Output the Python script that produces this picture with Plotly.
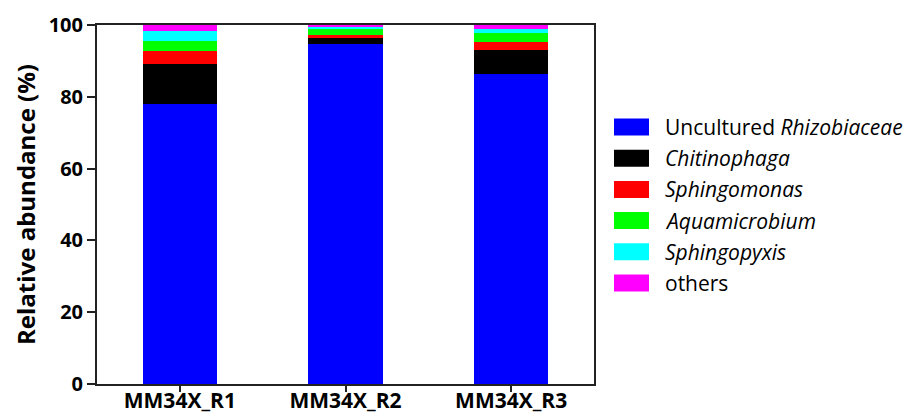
import plotly.graph_objects as go

# Samples and relative abundance (%) of the dominant genera
samples = ["MM34X_R1", "MM34X_R2", "MM34X_R3"]
uncultured_rhizobiaceae = [78.1, 94.7, 86.4]
chitinophaga = [10.9, 1.7, 6.6]
sphingomonas = [3.8, 0.9, 2.3]
aquamicrobium = [2.8, 1.6, 2.4]
sphingopyxis = [2.7, 0.5, 1.3]
others = [1.7, 0.6, 1.0]

taxa_labels = [
    "Uncultured <i>Rhizobiaceae</i>",
    "<i>Chitinophaga</i>",
    "<i>Sphingomonas</i>",
    "<i>Aquamicrobium</i>",
    "<i>Sphingopyxis</i>",
    "others",
]
taxa_values = [uncultured_rhizobiaceae, chitinophaga, sphingomonas,
               aquamicrobium, sphingopyxis, others]
taxa_colors = ["#0000ff", "#000000", "#ff0000", "#00ff00", "#00ffff", "#ff00ff"]
y_ticks = [0, 20, 40, 60, 80, 100]

FONT = "Open Sans"

fig = go.Figure()
for label, vals, color in zip(taxa_labels, taxa_values, taxa_colors):
    fig.add_trace(go.Bar(
        x=samples, y=vals, name=label,
        marker=dict(color=color, line=dict(width=0)),
        width=0.45, showlegend=False,
    ))

# Legend drawn as swatches + labels to the right of the plot
W, H = 917, 415
ml, mr, mt, mb = 97, 323, 25, 31
pw, ph = W - ml - mr, H - mt - mb
shapes, annotations = [], []
for i, (label, color) in enumerate(zip(taxa_labels, taxa_colors)):
    cy = 127 + i * 31.2
    y0 = (H - mb - (cy + 8.5)) / ph
    y1 = (H - mb - (cy - 8.5)) / ph
    shapes.append(dict(type="rect", xref="paper", yref="paper",
                       x0=(614 - ml) / pw, x1=(649 - ml) / pw, y0=y0, y1=y1,
                       fillcolor=color, line=dict(width=0)))
    annotations.append(dict(xref="paper", yref="paper",
                            x=(663 - ml) / pw, y=(H - mb - cy) / ph,
                            xanchor="left", yanchor="middle", showarrow=False,
                            text=label, font=dict(family=FONT, size=21, color="#000")))

fig.update_layout(
    width=W, height=H,
    margin=dict(l=ml, r=mr, t=mt, b=mb, autoexpand=False),
    barmode="stack",
    plot_bgcolor="white", paper_bgcolor="white",
    font=dict(family=FONT, color="#000"),
    shapes=shapes, annotations=annotations,
    xaxis=dict(
        range=[-0.5, 2.5], showline=True, linecolor="#222", linewidth=2,
        mirror=True, ticks="outside", ticklen=6, tickwidth=2, tickcolor="#222",
        tickfont=dict(family=FONT, size=21, weight="bold"), showgrid=False,
        automargin=False, ticklabelstandoff=-9,
    ),
    yaxis=dict(
        range=[0, 100], tickvals=y_ticks, showline=True, linecolor="#222",
        linewidth=2, mirror=True, ticks="outside", ticklen=8, tickwidth=2,
        tickcolor="#222", showgrid=False, zeroline=False, automargin=False,
        tickfont=dict(family=FONT, size=20, weight="bold"),
        title=dict(text="Relative abundance (%)",
                   font=dict(family=FONT, size=24, weight="bold"), standoff=6),
    ),
)

fig.write_html("out.html")
